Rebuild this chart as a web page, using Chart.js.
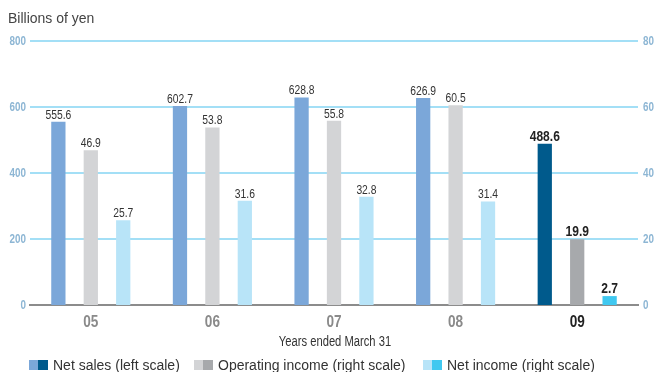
<!DOCTYPE html>
<html><head><meta charset="utf-8">
<script src="https://cdn.jsdelivr.net/npm/chart.js@4/dist/chart.umd.min.js"></script>
<style>html,body{margin:0;padding:0;background:#fff}#wrap{width:659px;height:372px;position:relative}</style>
</head><body><div id="wrap"><canvas id="c" width="659" height="372"></canvas></div>
<script>
const categories = ['05','06','07','08','09'];
const netSales = [555.6, 602.7, 628.8, 626.9, 488.6];
const operatingIncome = [46.9, 53.8, 55.8, 60.5, 19.9];
const netIncome = [25.7, 31.6, 32.8, 31.4, 2.7];
const leftTicks = [0, 200, 400, 600, 800];
const rightTicks = [0, 20, 40, 60, 80];
const seriesNames = ['Net sales (left scale)', 'Operating income (right scale)', 'Net income (right scale)'];
const xAxisTitle = 'Years ended March 31';
const unitTitle = 'Billions of yen';
const lightColors = ['#7ba7d9', '#d3d4d6', '#b8e4f8'];
const darkColors = ['#005a8c', '#a7a9ac', '#40c8f0'];

const FAM = '"Liberation Sans",Arial,sans-serif';

function colorsFor(i){ return categories.map((c,k)=> k===categories.length-1 ? darkColors[i] : lightColors[i]); }

function condText(ctx, txt, x, y, sx, align){
  ctx.save();
  ctx.translate(x, y);
  ctx.scale(sx, 1);
  ctx.textAlign = align || 'center';
  ctx.fillText(txt, 0, 0);
  ctx.restore();
}

const labelPlugin = {
  id:'labels',
  beforeDatasetsDraw(chart){
    const ctx = chart.ctx, ca = chart.chartArea, yl = chart.scales.y;
    ctx.save();
    ctx.strokeStyle = '#84d4f3'; ctx.lineWidth = 1.5;
    leftTicks.forEach(v=>{
      if (v === 0) return;
      const y = yl.getPixelForValue(v);
      ctx.beginPath(); ctx.moveTo(ca.left, y); ctx.lineTo(ca.right, y); ctx.stroke();
    });
    ctx.restore();
  },
  afterDatasetsDraw(chart){
    const ctx = chart.ctx;
    ctx.save();
    ctx.textBaseline='alphabetic';
    chart.data.datasets.forEach((ds,i)=>{
      const meta = chart.getDatasetMeta(i);
      meta.data.forEach((bar,k)=>{
        const last = k===categories.length-1;
        ctx.font = last ? 'bold 14px '+FAM : '12px '+FAM;
        ctx.fillStyle = last ? '#222' : '#333';
        condText(ctx, ds.data[k].toFixed(1), bar.x, bar.y-3, 0.86);
      });
    });
    ctx.restore();
  },
  afterDraw(chart){
    const ctx = chart.ctx;
    ctx.save();
    ctx.textBaseline='alphabetic';
    ctx.fillStyle='#444'; ctx.font='14px '+FAM; ctx.textAlign='left';
    ctx.fillText(unitTitle, 8, 23);
    ctx.font='bold 12px '+FAM; ctx.fillStyle='#8db6d4'; ctx.textBaseline='middle';
    const yl = chart.scales.y, yr = chart.scales.y1;
    leftTicks.forEach(v=> condText(ctx, String(v), 26, yl.getPixelForValue(v)+1, 0.82, 'right'));
    rightTicks.forEach(v=> condText(ctx, String(v), 643, yr.getPixelForValue(v)+1, 0.82, 'left'));
    const xs = chart.scales.x;
    ctx.textBaseline='alphabetic';
    categories.forEach((c,k)=>{
      const last = k===categories.length-1;
      ctx.font='bold 17px '+FAM;
      ctx.fillStyle = last ? '#222' : '#8a8a8a';
      condText(ctx, c, xs.getPixelForValue(k), 327, 0.8);
    });
    ctx.font='14px '+FAM; ctx.fillStyle='#333';
    condText(ctx, xAxisTitle, 335, 346, 0.8);
    const lx = [29, 194, 423];
    ctx.font='14px '+FAM; ctx.textAlign='left';
    seriesNames.forEach((n,i)=>{
      const x = lx[i];
      ctx.fillStyle = lightColors[i]; ctx.fillRect(x, 360, 9, 10);
      ctx.fillStyle = darkColors[i]; ctx.fillRect(x+9, 360, 10, 10);
      ctx.fillStyle='#333';
      ctx.fillText(n, x+24, 370);
    });
    ctx.restore();
  }
};

new Chart(document.getElementById('c'), {
  type:'bar',
  data:{
    labels: categories,
    datasets:[
      {label:seriesNames[0], data:netSales, backgroundColor:colorsFor(0), yAxisID:'y'},
      {label:seriesNames[1], data:operatingIncome, backgroundColor:colorsFor(1), yAxisID:'y1'},
      {label:seriesNames[2], data:netIncome, backgroundColor:colorsFor(2), yAxisID:'y1'}
    ]
  },
  plugins:[labelPlugin],
  options:{
    responsive:false, animation:false,
    datasets:{bar:{categoryPercentage:0.8, barPercentage:0.44}},
    layout:{padding:{top:41,left:0,right:0,bottom:0}},
    plugins:{legend:{display:false}, tooltip:{enabled:false}},
    scales:{
      x:{
        grid:{display:false},
        border:{color:'#8c8c8c', width:2},
        ticks:{color:'rgba(0,0,0,0)', font:{size:12}},
        afterFit(s){ s.height = 67; }
      },
      y:{
        position:'left', min:0, max:800,
        afterBuildTicks(s){ s.ticks = leftTicks.map(v=>({value:v})); },
        grid:{display:false, drawTicks:false},
        border:{display:false},
        ticks:{color:'rgba(0,0,0,0)', font:{size:11}},
        afterFit(s){ s.width = 30; }
      },
      y1:{
        position:'right', min:0, max:80,
        afterBuildTicks(s){ s.ticks = rightTicks.map(v=>({value:v})); },
        grid:{display:false, drawTicks:false},
        border:{display:false},
        ticks:{color:'rgba(0,0,0,0)', font:{size:11}},
        afterFit(s){ s.width = 21; }
      }
    }
  }
});
</script></body></html>
